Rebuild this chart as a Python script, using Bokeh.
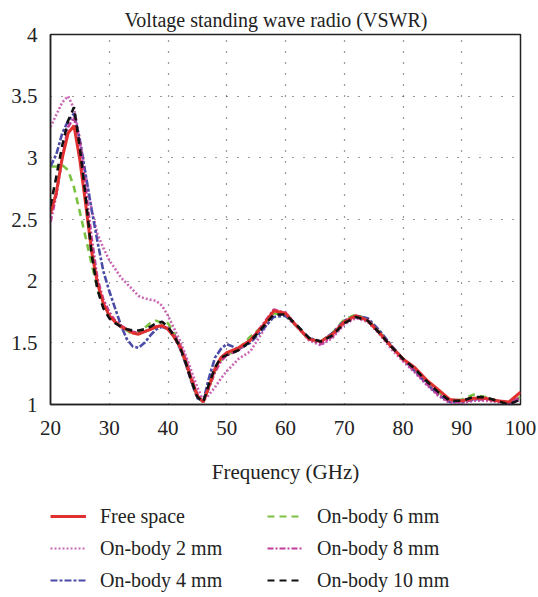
from bokeh.plotting import figure
from bokeh.layouts import column
from bokeh.models import Range1d, Legend, LegendItem, FixedTicker, CustomJSTickFormatter
from bokeh.embed import file_html
from bokeh.resources import INLINE

title = "Voltage standing wave radio (VSWR)"
x_label = "Frequency (GHz)"
x_ticks = [20, 30, 40, 50, 60, 70, 80, 90, 100]
y_ticks = [1, 1.5, 2, 2.5, 3, 3.5, 4]

freq = [20, 21, 22, 23, 24, 25, 26, 27, 28, 29, 30, 31, 32, 33, 34, 35, 36, 37, 38, 39,
        40, 41, 42, 43, 44, 45, 46, 47, 48, 49, 50, 52, 54, 56, 58, 60, 62, 64, 66, 68,
        70, 72, 74, 76, 78, 80, 82, 84, 86, 88, 90, 92, 94, 96, 98, 100]

free_space = [2.55, 2.72, 3.00, 3.20, 3.26, 2.98, 2.62, 2.24, 1.98, 1.82, 1.72, 1.67, 1.63, 1.61, 1.58, 1.57, 1.59, 1.61, 1.63, 1.64,
              1.61, 1.55, 1.47, 1.35, 1.20, 1.07, 1.02, 1.15, 1.29, 1.38, 1.42, 1.46, 1.52, 1.63, 1.76, 1.74, 1.63, 1.53, 1.51, 1.57,
              1.67, 1.72, 1.68, 1.58, 1.47, 1.37, 1.30, 1.20, 1.12, 1.04, 1.03, 1.05, 1.05, 1.03, 1.02, 1.10]

body_2mm = [3.25, 3.35, 3.45, 3.50, 3.40, 3.15, 2.85, 2.58, 2.38, 2.27, 2.17, 2.10, 2.03, 1.98, 1.93, 1.88, 1.86, 1.85, 1.84, 1.80,
            1.72, 1.62, 1.52, 1.40, 1.27, 1.14, 1.03, 1.08, 1.14, 1.21, 1.27, 1.37, 1.43, 1.58, 1.75, 1.75, 1.63, 1.52, 1.48, 1.54,
            1.65, 1.70, 1.67, 1.57, 1.45, 1.35, 1.26, 1.16, 1.07, 1.01, 1.01, 1.03, 1.03, 1.02, 1.00, 1.04]

body_4mm = [2.93, 3.03, 3.20, 3.30, 3.36, 3.14, 2.86, 2.58, 2.32, 2.08, 1.92, 1.78, 1.64, 1.53, 1.47, 1.46, 1.50, 1.56, 1.61, 1.63,
            1.61, 1.55, 1.46, 1.33, 1.18, 1.05, 1.03, 1.22, 1.38, 1.45, 1.49, 1.45, 1.50, 1.60, 1.71, 1.72, 1.63, 1.54, 1.51, 1.58,
            1.68, 1.72, 1.70, 1.60, 1.48, 1.37, 1.27, 1.17, 1.08, 1.02, 1.02, 1.04, 1.05, 1.03, 1.01, 1.05]

body_6mm = [2.93, 2.93, 2.94, 2.90, 2.76, 2.56, 2.35, 2.14, 1.94, 1.80, 1.72, 1.67, 1.64, 1.60, 1.57, 1.58, 1.62, 1.66, 1.68, 1.66,
            1.66, 1.58, 1.47, 1.34, 1.19, 1.06, 1.02, 1.14, 1.27, 1.36, 1.40, 1.45, 1.55, 1.63, 1.74, 1.72, 1.63, 1.53, 1.51, 1.58,
            1.69, 1.73, 1.69, 1.59, 1.47, 1.37, 1.29, 1.19, 1.10, 1.03, 1.04, 1.08, 1.06, 1.03, 1.01, 1.06]

body_8mm = [2.48, 2.70, 3.00, 3.25, 3.33, 3.12, 2.75, 2.35, 2.02, 1.85, 1.75, 1.68, 1.64, 1.61, 1.59, 1.58, 1.59, 1.61, 1.63, 1.63,
            1.62, 1.57, 1.49, 1.37, 1.22, 1.08, 1.02, 1.14, 1.26, 1.35, 1.40, 1.44, 1.52, 1.64, 1.77, 1.74, 1.63, 1.53, 1.49, 1.55,
            1.66, 1.71, 1.68, 1.58, 1.47, 1.36, 1.27, 1.17, 1.08, 1.02, 1.02, 1.04, 1.04, 1.03, 1.01, 1.06]

body_10mm = [2.61, 2.85, 3.10, 3.30, 3.41, 3.08, 2.68, 2.22, 1.93, 1.78, 1.70, 1.66, 1.63, 1.61, 1.60, 1.60, 1.61, 1.63, 1.66, 1.67,
             1.63, 1.56, 1.47, 1.34, 1.19, 1.06, 1.02, 1.17, 1.30, 1.38, 1.40, 1.44, 1.51, 1.62, 1.73, 1.73, 1.64, 1.54, 1.51, 1.56,
             1.66, 1.71, 1.68, 1.58, 1.47, 1.37, 1.29, 1.19, 1.10, 1.03, 1.03, 1.06, 1.06, 1.03, 1.00, 1.04]

series = [
    ("Free space", free_space, "#e03030", None, 3.0),
    ("On-body 2 mm", body_2mm, "#c966b4", "2 2", 2.6),
    ("On-body 4 mm", body_4mm, "#4b4ba8", "7 2 3 2", 2.6),
    ("On-body 6 mm", body_6mm, "#7cc242", "7 5", 2.6),
    ("On-body 8 mm", body_8mm, "#c23c9a", "6 2 2 2", 2.6),
    ("On-body 10 mm", body_10mm, "#111111", "7 5", 2.6),
]
draw_order = [1, 3, 2, 4, 0, 5]

FONT = "Liberation Serif"

p = figure(width=538, height=490, output_backend="svg", toolbar_location=None,
           x_range=Range1d(20, 100), y_range=Range1d(1, 4),
           min_border_left=50, min_border_right=18, min_border_top=34, min_border_bottom=86)

p.title.text = title
p.title.align = "left"
p.title.offset = 74
p.title.text_font = FONT
p.title.text_font_size = "20px"
p.title.text_font_style = "normal"
p.title.text_color = "#222222"
p.title.standoff = 8

p.outline_line_color = "#222222"
p.outline_line_width = 1.5
p.outline_line_alpha = 1.0

for ax in (p.xaxis[0], p.yaxis[0]):
    ax.axis_line_color = "#222222"
    ax.axis_line_width = 1.5
    ax.major_tick_line_color = None
    ax.minor_tick_line_color = None
    ax.major_label_text_font = FONT
    ax.major_label_text_font_size = "21px"
    ax.major_label_text_color = "#222222"
    ax.formatter = CustomJSTickFormatter(code="return String(tick);")

p.xaxis.ticker = FixedTicker(ticks=x_ticks)
p.yaxis.ticker = FixedTicker(ticks=y_ticks)
p.xaxis.major_label_standoff = 10
p.yaxis.major_label_standoff = 7
p.xaxis.axis_label = x_label
p.xaxis.axis_label_text_font = FONT
p.xaxis.axis_label_text_font_size = "21px"
p.xaxis.axis_label_text_font_style = "normal"
p.xaxis.axis_label_text_color = "#222222"
p.xaxis.axis_label_standoff = 22

p.xgrid.ticker = FixedTicker(ticks=x_ticks[1:-1])
p.ygrid.ticker = FixedTicker(ticks=y_ticks[1:-1])
for g in (p.xgrid[0], p.ygrid[0]):
    g.grid_line_color = "#333333"
    g.grid_line_width = 1.2
    g.grid_line_dash = "1 10"

for i in draw_order:
    name, vals, color, dash, lw = series[i]
    kw = dict(line_color=color, line_width=lw)
    if dash:
        kw["line_dash"] = dash
    p.line(freq, vals, **kw)

# legend panel: a separate canvas below the plot so the legend is not clipped.
# Its ranges are chosen so the series themselves fall outside this small canvas.
lg = figure(width=538, height=107, output_backend="svg", toolbar_location=None,
            x_range=Range1d(0, 1), y_range=Range1d(0, 1),
            x_axis_type=None, y_axis_type=None,
            min_border_left=50, min_border_right=18, min_border_top=0, min_border_bottom=0)
lg.grid.visible = False
lg.outline_line_color = None

items = []
for name, vals, color, dash, lw in series:
    kw = dict(line_color=color, line_width=(3.0 if dash is None else 2.2))
    if dash:
        kw["line_dash"] = dash
    r = lg.line(freq, vals, **kw)
    items.append(LegendItem(label=name, renderers=[r]))

legend = Legend(items=items, location=(0, 1), orientation="vertical", nrows=3,
                glyph_width=36, glyph_height=32, label_height=32, label_width=167,
                label_standoff=14, spacing=0, padding=0, margin=0,
                label_text_font=FONT, label_text_font_size="20px", label_text_color="#222222",
                border_line_alpha=0, background_fill_alpha=0)
lg.add_layout(legend, "center")

layout = column(p, lg, spacing=0)
open("out.html", "w").write(file_html(layout, INLINE))
